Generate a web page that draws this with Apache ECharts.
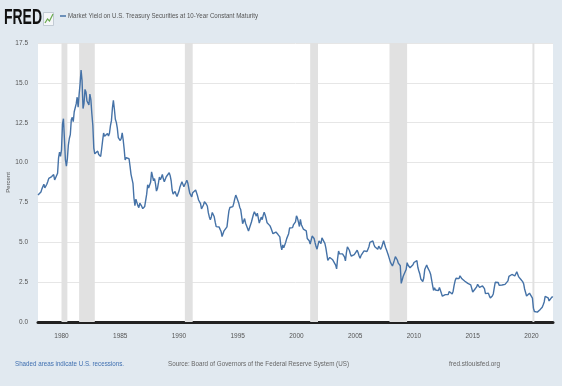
<!DOCTYPE html>
<html><head><meta charset="utf-8">
<script src="https://cdn.jsdelivr.net/npm/echarts@6/dist/echarts.min.js"></script>
<style>html,body{margin:0;padding:0;background:#e1e9f0;}#c{width:562px;height:386px;}</style>
</head><body><div id="c"></div>
<script>
// ---------- data ----------
const startYear = 1978; // monthly values from Jan 1978
const yields1978to1989 = [
 7.96,8.03,8.04,8.15,8.35,8.46,8.64,8.41,8.42,8.64,8.81,9.01,
 9.10,9.10,9.12,9.18,9.25,8.91,8.95,9.03,9.33,10.30,10.65,10.39,
 10.80,12.41,12.75,11.47,10.18,9.78,10.25,11.10,11.51,11.75,12.68,12.84,
 12.57,13.19,13.12,13.68,14.10,13.47,14.28,14.94,15.80,15.15,13.39,13.72,
 14.59,14.43,13.86,13.87,13.62,14.30,13.95,13.06,12.34,10.91,10.55,10.54,
 10.46,10.72,10.51,10.40,10.38,10.85,11.38,11.85,11.65,11.54,11.69,11.83,
 11.67,11.84,12.32,12.63,13.41,13.90,13.36,12.72,12.52,12.16,11.57,11.50,
 11.38,11.51,11.86,11.43,10.85,10.16,10.31,10.33,10.37,10.24,9.78,9.26,
 9.19,8.70,7.78,7.30,7.71,7.80,7.30,7.17,7.45,7.43,7.25,7.11,
 7.08,7.25,7.25,8.02,8.61,8.40,8.45,8.76,9.42,9.52,8.86,8.99,
 8.67,8.21,8.37,8.72,9.09,8.92,9.06,9.26,8.98,8.80,8.96,9.11,
 9.09,9.17,9.36,9.18,8.86,8.28,8.02,8.11,8.19,8.01,7.87,7.84];
const yields1990to1999 = [
 8.21,8.47,8.59,8.79,8.76,8.48,8.47,8.75,8.89,8.72,8.39,8.08,
 8.09,7.85,8.11,8.04,8.07,8.28,8.27,7.90,7.65,7.53,7.42,7.09,
 7.03,7.34,7.54,7.48,7.39,7.26,6.84,6.59,6.42,6.59,6.87,6.77,
 6.60,6.26,5.98,5.97,6.04,5.96,5.81,5.68,5.36,5.33,5.72,5.77,
 5.75,5.97,6.48,6.97,7.18,7.10,7.30,7.24,7.46,7.74,7.96,7.81,
 7.78,7.47,7.20,7.06,6.63,6.17,6.28,6.49,6.20,6.04,5.93,5.71,
 5.65,5.81,6.27,6.51,6.74,6.91,6.87,6.64,6.83,6.53,6.20,6.30,
 6.58,6.42,6.69,6.89,6.71,6.49,6.22,6.30,6.21,6.03,5.88,5.81,
 5.54,5.57,5.65,5.64,5.65,5.50,5.46,5.34,4.81,4.53,4.83,4.65,
 4.72,5.00,5.23,5.18,5.54,5.90,5.79,5.94,5.92,6.11,6.03,6.28];
const yields2000to2009 = [
 6.66,6.52,6.26,5.99,6.44,6.10,6.05,5.83,5.80,5.74,5.72,5.24,
 5.16,5.10,4.89,5.14,5.39,5.28,5.24,4.97,4.73,4.57,4.65,5.09,
 5.04,4.91,5.28,5.21,5.16,4.93,4.65,4.26,3.87,3.94,4.05,4.03,
 4.05,3.90,3.81,3.96,3.57,3.33,3.98,4.45,4.27,4.29,4.30,4.27,
 4.15,4.08,3.83,4.35,4.72,4.73,4.50,4.28,4.13,4.10,4.19,4.23,
 4.22,4.17,4.50,4.34,4.14,4.00,4.18,4.26,4.20,4.46,4.54,4.47,
 4.42,4.57,4.72,4.99,5.11,5.11,5.09,4.88,4.72,4.73,4.60,4.56,
 4.76,4.72,4.56,4.69,4.75,5.10,5.00,4.67,4.52,4.53,4.15,4.10,
 3.74,3.74,3.51,3.68,3.88,4.10,4.01,3.89,3.69,3.81,3.53,2.42,
 2.52,2.87,2.82,2.93,3.29,3.72,3.56,3.59,3.40,3.39,3.40,3.59];
const yields2010to2021 = [
 3.73,3.69,3.73,3.85,3.42,3.20,3.01,2.70,2.65,2.54,2.76,3.29,
 3.39,3.58,3.41,3.46,3.17,3.00,3.00,2.30,1.98,2.15,2.01,1.98,
 1.97,1.97,2.17,2.05,1.80,1.62,1.53,1.68,1.72,1.75,1.65,1.72,
 1.91,1.98,1.96,1.76,1.93,2.30,2.58,2.74,2.81,2.62,2.72,2.90,
 2.86,2.71,2.72,2.71,2.56,2.60,2.54,2.42,2.53,2.30,2.33,2.21,
 1.88,1.98,2.04,1.94,2.20,2.36,2.32,2.17,2.17,2.07,2.26,2.24,
 2.09,1.78,1.89,1.81,1.81,1.64,1.50,1.56,1.63,1.76,2.14,2.49,
 2.43,2.42,2.48,2.30,2.30,2.19,2.32,2.21,2.20,2.36,2.35,2.40,
 2.58,2.86,2.84,2.87,2.98,2.91,2.89,2.89,3.00,3.15,3.12,2.83,
 2.71,2.68,2.57,2.53,2.40,2.07,2.06,1.63,1.70,1.71,1.81,1.86,
 1.76,1.50,0.87,0.66,0.67,0.73,0.62,0.65,0.68,0.79,0.87,0.93,
 1.08,1.26,1.61,1.64,1.62,1.52,1.32,1.28,1.37,1.58,1.56];
const recessionStarts = ['1980-01','1981-07','1990-07','2001-03','2007-12','2020-02'];
const recessionEnds   = ['1980-07','1982-11','1991-03','2001-11','2009-06','2020-04'];
const xTickYears = [1980,1985,1990,1995,2000,2005,2010,2015,2020];
const yTickValues = [0,2.5,5,7.5,10,12.5,15,17.5];
const seriesTitle = 'Market Yield on U.S. Treasury Securities at 10-Year Constant Maturity';
const yAxisTitle = 'Percent';
const footLeft = 'Shaded areas indicate U.S. recessions.';
const footMid = 'Source: Board of Governors of the Federal Reserve System (US)';
const footRight = 'fred.stlouisfed.org';

// ---------- build ----------
const allYields = [].concat(yields1978to1989, yields1990to1999, yields2000to2009, yields2010to2021);
const lineData = allYields.map((v, i) => [startYear + i / 12, v]);
const ym = s => { const p = s.split('-'); return +p[0] + (+p[1] - 1) / 12; };
const areas = recessionStarts.map((s, i) => [{xAxis: ym(s)}, {xAxis: ym(recessionEnds[i])}]);

const FONT = '"Liberation Sans Narrow","Liberation Sans",Arial,sans-serif';
const ctx = document.createElement('canvas').getContext('2d');
function fit(text, font, w) { ctx.font = font; return w / ctx.measureText(text).width; }
function txt(text, x, y, size, w, color, weight) {
  const font = (weight || 'normal') + ' ' + size + 'px ' + FONT;
  return {type: 'text', x: x, y: y, scaleX: fit(text, font, w), z: 10,
    style: {text: text, font: font, fill: color, textVerticalAlign: 'middle'}};
}

const chart = echarts.init(document.getElementById('c'));
chart.setOption({
  backgroundColor: '#e1e9f0',
  animation: false,
  grid: {left: 38, right: 9, top: 43, bottom: 64, outerBoundsMode: 'none', containLabel: false,
    show: true, backgroundColor: '#ffffff', borderWidth: 0},
  xAxis: {
    type: 'value', min: startYear, max: startYear + (allYields.length - 1) / 12,
    axisLine: {show: true, onZero: false, lineStyle: {color: '#222', width: 3}},
    axisTick: {show: false},
    splitLine: {show: false},
    axisLabel: {customValues: xTickYears, formatter: v => String(Math.round(v)), fontSize: 6.5,
      color: '#555', margin: 11, fontFamily: FONT}
  },
  yAxis: {
    type: 'value', min: 0, max: 17.5, interval: 2.5,
    name: yAxisTitle, nameLocation: 'middle', nameGap: 27, nameRotate: 90, nameMoveOverlap: false,
    nameTextStyle: {fontSize: 6, color: '#555', fontFamily: FONT},
    axisLine: {show: false}, axisTick: {show: false},
    splitLine: {lineStyle: {color: '#e6e6e6', width: 1}},
    axisLabel: {customValues: yTickValues, formatter: v => v.toFixed(1), fontSize: 6.5, color: '#555', margin: 10, fontFamily: FONT}
  },
  series: [
    {type: 'line', data: [], z: 1, silent: true,
     markArea: {silent: true, itemStyle: {color: '#e1e1e1'}, data: areas}},
    {type: 'line', data: lineData, z: 3, showSymbol: false, symbol: 'none',
     lineStyle: {color: '#4572a7', width: 1.4}}
  ],
  graphic: [
    txt('FRED', 4, 18, 22, 38, '#111', 'bold'),
    {type: 'rect', shape: {x: 43.5, y: 12.5, width: 10, height: 13}, style: {fill: '#f4f6f8', stroke: '#b8c2cc', lineWidth: 0.8}, z: 10},
    {type: 'polyline', shape: {points: [[45, 23], [47.5, 19], [49.5, 21], [53, 14]]}, style: {stroke: '#6aaa4f', lineWidth: 1.2, fill: null}, z: 11},
    {type: 'line', shape: {x1: 60, y1: 16, x2: 66, y2: 16}, style: {stroke: '#4572a7', lineWidth: 1.5}, z: 10},
    txt(seriesTitle, 68, 16, 8, 190, '#555'),
    txt(footLeft, 15, 364, 8, 109, '#3f6fb0'),
    txt(footMid, 168, 364, 8, 181, '#666'),
    txt(footRight, 449, 364, 8, 51, '#666')
  ]
});
</script></body></html>
